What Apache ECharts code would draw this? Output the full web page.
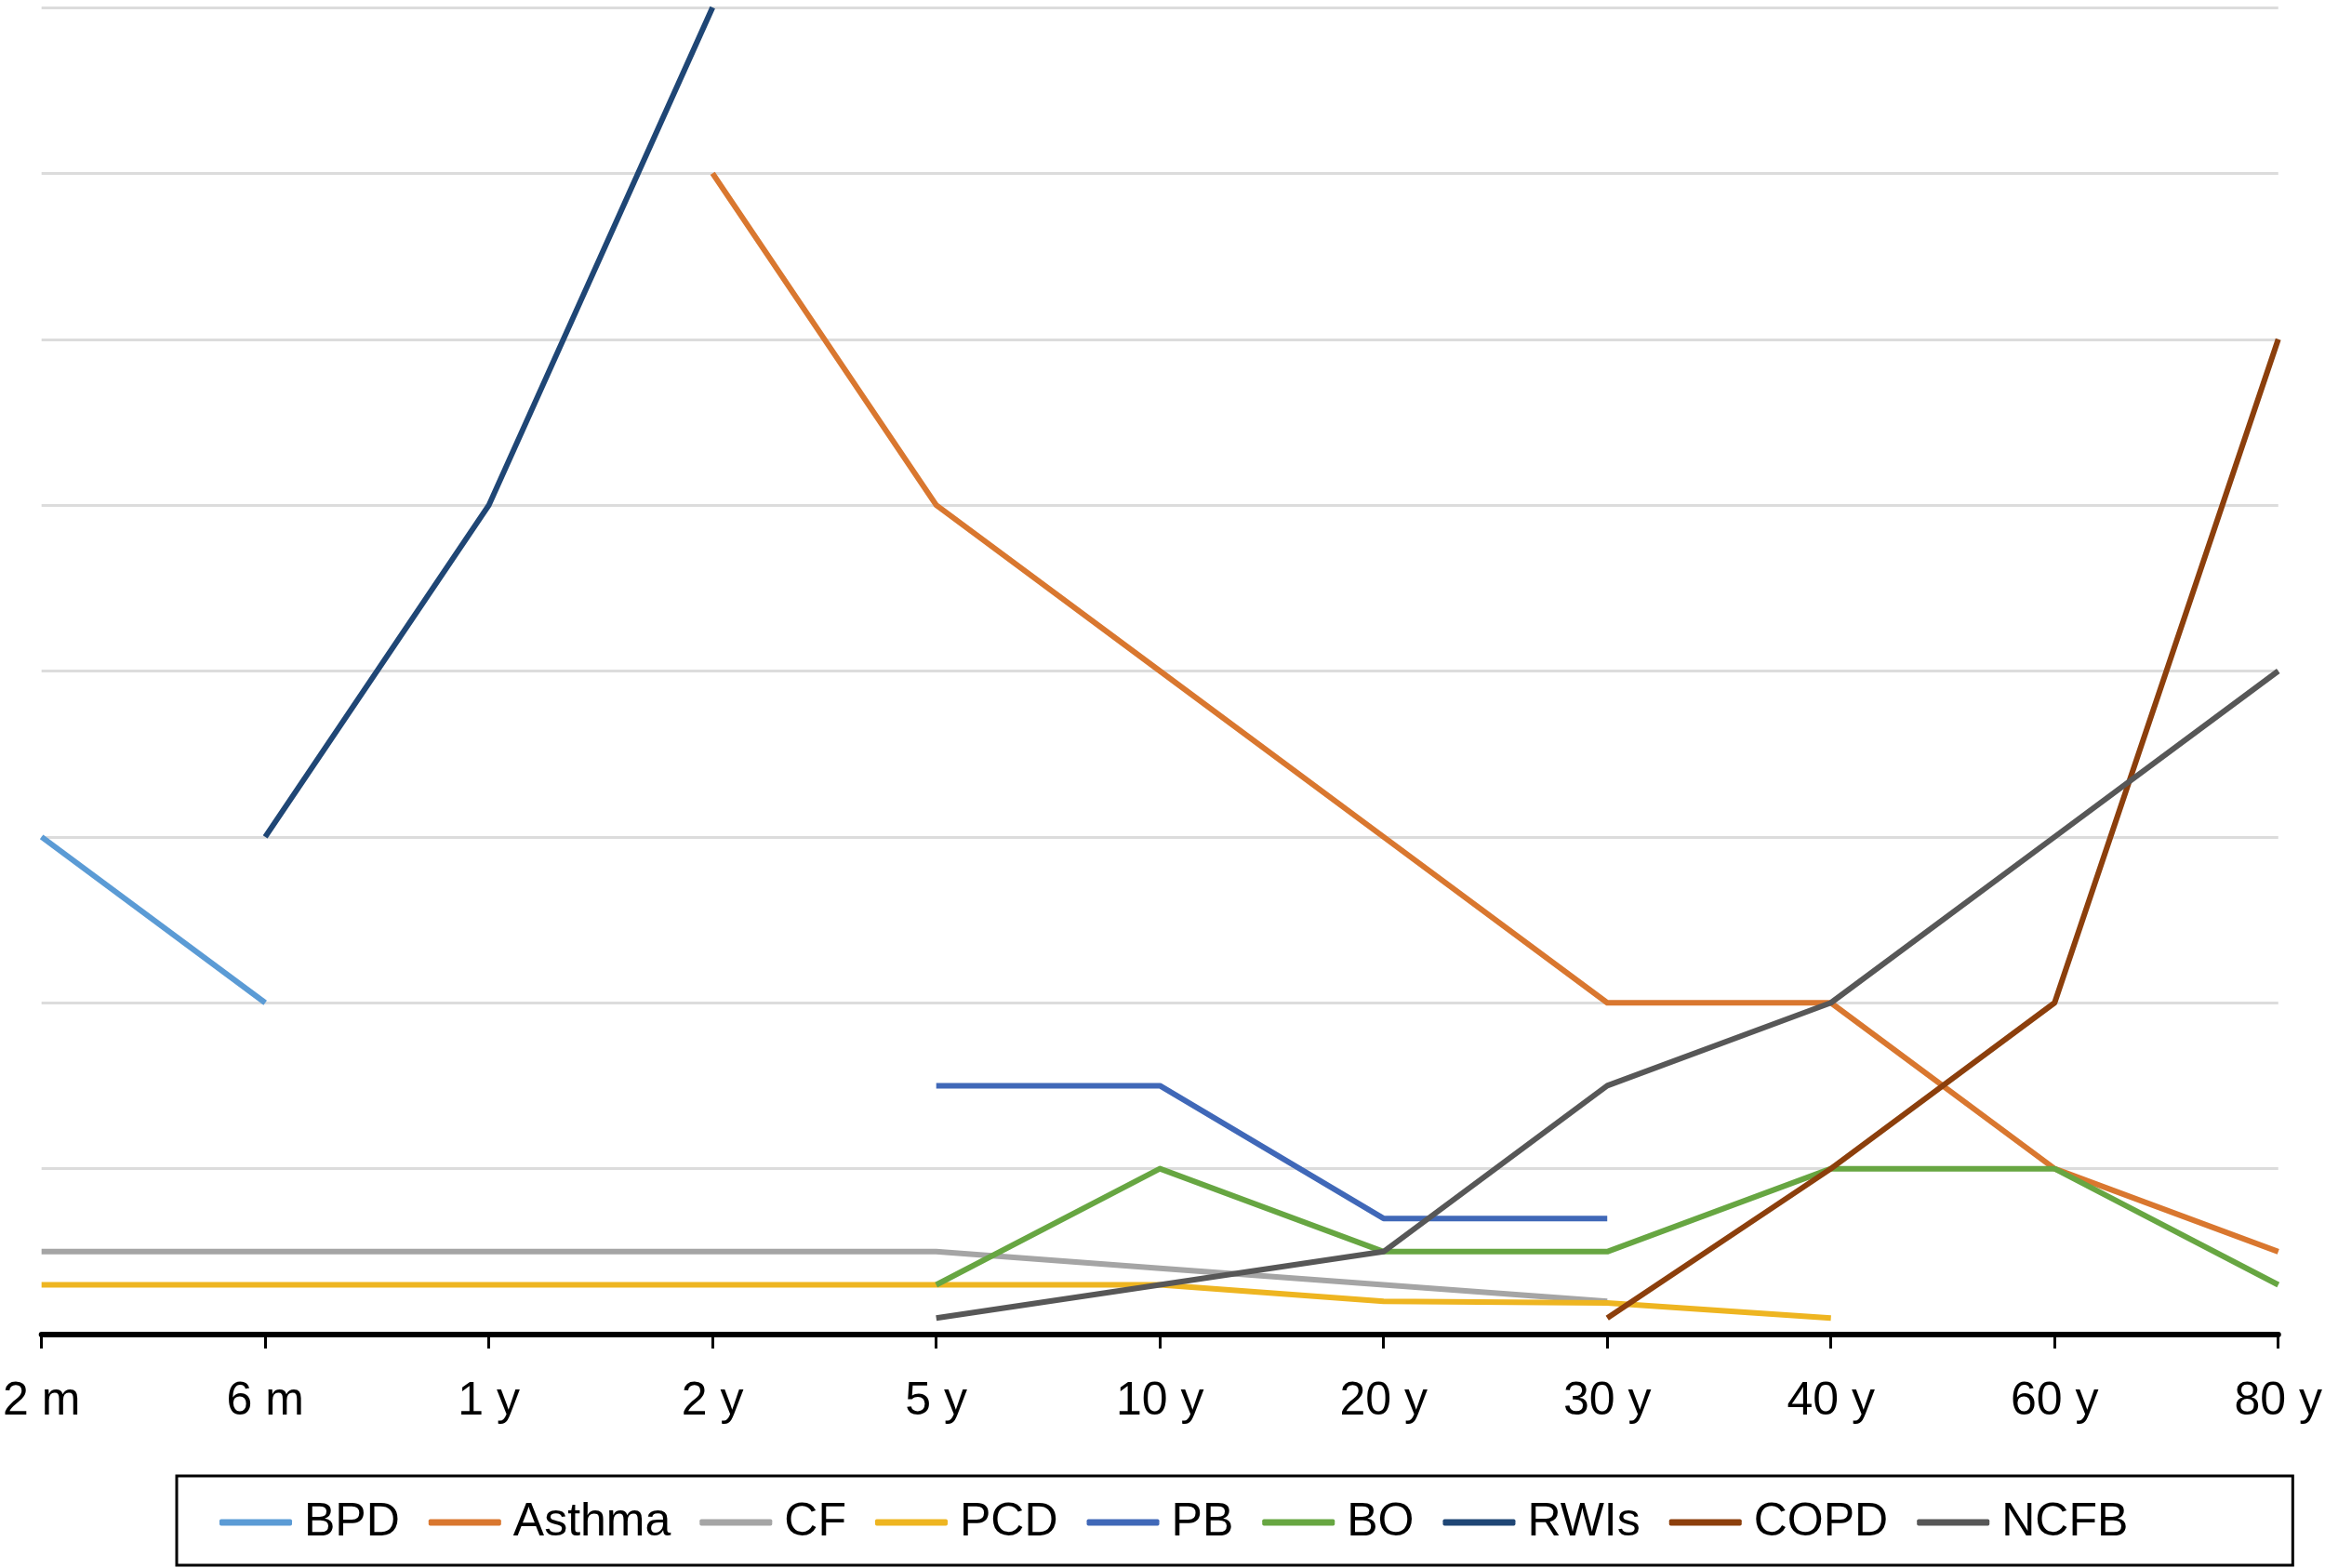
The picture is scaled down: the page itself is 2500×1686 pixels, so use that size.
<!DOCTYPE html>
<html>
<head>
<meta charset="utf-8">
<script src="https://cdn.jsdelivr.net/npm/echarts@6/dist/echarts.min.js"></script>
<style>
html,body{margin:0;padding:0;background:#fff;}
#chart{width:2500px;height:1686px;}
</style>
</head>
<body>
<div id="chart"></div>
<script>
const categories = ['2 m','6 m','1 y','2 y','5 y','10 y','20 y','30 y','40 y','60 y','80 y'];
const seriesNames = ['BPD','Asthma','CF','PCD','PB','BO','RWIs','COPD','NCFB'];
const BPD    = [3, 2, null, null, null, null, null, null, null, null, null];
const Asthma = [null, null, null, 7, 5, 4, 3, 2, 2, 1, 0.5];
const CF     = [0.5, 0.5, 0.5, 0.5, 0.5, 0.4, 0.3, 0.2, null, null, null];
const PCD    = [0.3, 0.3, 0.3, 0.3, 0.3, 0.3, 0.2, 0.19, 0.1, null, null];
const PB     = [null, null, null, null, 1.5, 1.5, 0.7, 0.7, null, null, null];
const BO     = [null, null, null, null, 0.3, 1, 0.5, 0.5, 1, 1, 0.3];
const RWIs   = [null, 3, 5, 8, null, null, null, null, null, null, null];
const COPD   = [null, null, null, null, null, null, null, 0.1, 1, 2, 6];
const NCFB   = [null, null, null, null, 0.1, 0.3, 0.5, 1.5, 2, 3, 4];
const seriesData = [BPD, Asthma, CF, PCD, PB, BO, RWIs, COPD, NCFB];
const colors = ['#5B9BD5','#D9772F','#A5A5A5','#EEB521','#4068B8','#67A642','#1F4675','#8C3F0C','#575757'];

const chart = echarts.init(document.getElementById('chart'));
chart.setOption({
  animation: false,
  backgroundColor: '#ffffff',
  color: colors,
  grid: { left: 44, right: 48, top: 8, bottom: 251, containLabel: false },
  legend: {
    data: seriesNames,
    left: 190,
    top: 1587,
    orient: 'horizontal',
    icon: 'roundRect',
    itemWidth: 78,
    itemHeight: 7,
    itemGap: 31,
    padding: [25, 177, 21, 46],
    borderColor: '#000000',
    borderWidth: 3,
    textStyle: { fontFamily: 'Liberation Sans, Arial, sans-serif', fontSize: 50, color: '#000', lineHeight: 50, padding: [0, 0, 0, 8] }
  },
  xAxis: {
    type: 'category',
    data: categories,
    boundaryGap: false,
    axisLine: { show: true, lineStyle: { color: '#000', width: 6 } },
    axisTick: { show: true, length: 15, lineStyle: { color: '#000', width: 3 } },
    axisLabel: { fontFamily: 'Liberation Sans, Arial, sans-serif', fontSize: 50, color: '#000', margin: 47, showMinLabel: true, showMaxLabel: true, interval: 0 },
    splitLine: { show: false }
  },
  yAxis: {
    type: 'value',
    min: 0,
    max: 8,
    interval: 1,
    axisLine: { show: false },
    axisTick: { show: false },
    axisLabel: { show: false },
    splitLine: { show: true, lineStyle: { color: '#DCDCDC', width: 3 } }
  },
  series: seriesNames.map((name, i) => ({
    name: name,
    type: 'line',
    data: seriesData[i],
    symbol: 'none',
    connectNulls: false,
    lineStyle: { width: 6, color: colors[i], join: 'round' },
    itemStyle: { color: colors[i] }
  }))
});
</script>
</body>
</html>
